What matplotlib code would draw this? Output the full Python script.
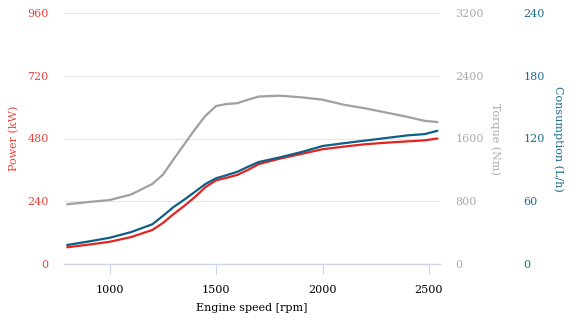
import numpy as np
import matplotlib.pyplot as plt

# engine speed samples (rpm)
rpm = [800, 900, 1000, 1100, 1200, 1250, 1300, 1350, 1400, 1450, 1500, 1550,
       1600, 1650, 1700, 1800, 1900, 2000, 2100, 2200, 2300, 2400, 2480, 2540]

power_kw = [64, 74, 85, 103, 130, 157, 191, 222, 256, 294, 320, 330,
            341, 360, 382, 403, 421, 439, 449, 458, 464, 469, 473, 480]

torque_nm = [761, 790, 816, 886, 1020, 1140, 1335, 1525, 1715, 1890, 2015, 2040,
             2050, 2095, 2135, 2146, 2125, 2095, 2030, 1985, 1930, 1875, 1825, 1810]

consumption_lh = [18.2, 21.5, 25.1, 30.5, 38.0, 46.0, 54.5, 61.5, 69.0, 76.5, 82.0, 85.0,
                  88.2, 93.0, 97.5, 102.0, 107.0, 112.8, 115.5, 118.0, 120.5, 123.0, 124.2, 127.4]

x_ticks = [1000, 1500, 2000, 2500]
power_ticks = [0, 240, 480, 720, 960]
torque_ticks = [0, 800, 1600, 2400, 3200]
cons_ticks = [0, 60, 120, 180, 240]

red = '#e32420'
red_txt = '#e8433d'
gray = '#a0a0a0'
gray_txt = '#aaaaaa'
blue = '#0e5f86'
blue_txt = '#1c6c92'

plt.rcParams['font.family'] = ['DejaVu Serif']
fs = 8

fig = plt.figure(figsize=(5.76, 3.24), dpi=100)
ax = fig.add_axes([64 / 576, 60 / 324, 376 / 576, 251 / 324])
ax2 = ax.twinx()
ax3 = ax.twinx()

for a in (ax, ax2, ax3):
    for s in a.spines.values():
        s.set_visible(False)
    a.set_xlim(785, 2552)

ax.spines['bottom'].set_visible(True)
ax.spines['bottom'].set_color('#ccd6eb')
ax.spines['bottom'].set_linewidth(1)

# grid lines from the power axis
ax.set_ylim(0, 960)
ax.set_yticks(power_ticks)
ax.grid(axis='y', color='#e6e6e6', linewidth=0.8)
ax.set_axisbelow(True)
ax.tick_params(axis='y', length=0, pad=11, colors=red_txt, labelsize=fs)
ax.set_ylabel('Power (kW)', color=red_txt, fontsize=fs)
ax.yaxis.set_label_coords(-0.118, 0.5)

ax.set_xticks(x_ticks)
ax.tick_params(axis='x', length=7, width=0.8, color='#ccd6eb', pad=8, labelsize=fs)
ax.set_xlabel('Engine speed [rpm]', fontsize=fs, labelpad=6)

ax2.set_ylim(0, 3200)
ax2.set_yticks(torque_ticks)
ax2.tick_params(axis='y', length=0, pad=11, colors=gray_txt, labelsize=fs)
ax2.set_ylabel('Torque (Nm)', color=gray_txt, rotation=270, fontsize=fs, va='center')
ax2.yaxis.set_label_coords(1.146, 0.5)

ax3.set_ylim(0, 240)
ax3.set_yticks(cons_ticks)
ax3.tick_params(axis='y', length=0, pad=60, colors=blue_txt, labelsize=fs)
ax3.set_ylabel('Consumption (L/h)', color=blue_txt, rotation=270, fontsize=fs, va='center')
ax3.yaxis.set_label_coords(1.314, 0.5)

ax2.plot(rpm, torque_nm, color=gray, linewidth=1.6, solid_joinstyle='round', solid_capstyle='round')
ax.plot(rpm, power_kw, color=red, linewidth=1.6, solid_joinstyle='round', solid_capstyle='round')
ax3.plot(rpm, consumption_lh, color=blue, linewidth=1.6, solid_joinstyle='round', solid_capstyle='round')

fig.savefig('out.png', dpi=100)
